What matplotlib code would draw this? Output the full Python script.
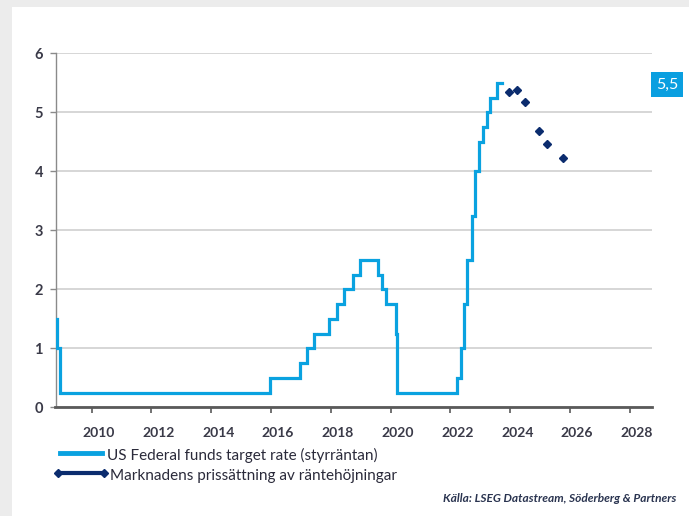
import matplotlib
matplotlib.use("Agg")
import matplotlib.pyplot as plt
import matplotlib.transforms as mtransforms
from matplotlib.patches import Rectangle
from matplotlib.lines import Line2D
import pandas as pd

# ---- data ----
rate_dates = ["2008-10-01", "2008-10-29", "2008-12-16", "2015-12-16", "2016-12-14",
              "2017-03-15", "2017-06-14", "2017-12-13", "2018-03-21", "2018-06-13",
              "2018-09-26", "2018-12-19", "2019-07-31", "2019-09-18", "2019-10-30",
              "2020-03-03", "2020-03-15", "2022-03-16", "2022-05-04", "2022-06-15",
              "2022-07-27", "2022-09-21", "2022-11-02", "2022-12-14", "2023-02-01",
              "2023-03-22", "2023-05-03", "2023-07-26", "2023-09-20"]
rate_values = [1.5, 1.0, 0.25, 0.5, 0.75, 1.0, 1.25, 1.5, 1.75, 2.0, 2.25, 2.5,
               2.25, 2.0, 1.75, 1.25, 0.25, 0.5, 1.0, 1.75, 2.5, 3.25, 4.0, 4.5,
               4.75, 5.0, 5.25, 5.5, 5.5]
market_years = [2023.97, 2024.23, 2024.49, 2024.97, 2025.24, 2025.75]
market_values = [5.35, 5.38, 5.18, 4.68, 4.47, 4.23]
x_ticks = [2010, 2012, 2014, 2016, 2018, 2020, 2022, 2024, 2026, 2028]
y_ticks = [0, 1, 2, 3, 4, 5, 6]
label_latest = "5,5"
legend_labels = ["US Federal funds target rate (styrräntan)",
                 "Marknadens prissättning av räntehöjningar"]
source_text = "Källa: LSEG Datastream, Söderberg & Partners"

def to_decimal_year(s):
    d = pd.Timestamp(s)
    start = pd.Timestamp(year=d.year, month=1, day=1)
    end = pd.Timestamp(year=d.year + 1, month=1, day=1)
    return d.year + (d - start) / (end - start)

rate_x = [to_decimal_year(s) for s in rate_dates]

# ---- figure ----
W, H = 689, 516
plt.rcParams['font.family'] = ['Lato', 'DejaVu Sans']
fig = plt.figure(figsize=(W / 100, H / 100), dpi=100)
fig.patch.set_facecolor("white")

# gray page borders
fig.patches.append(Rectangle((0, 0), 12 / W, 1, transform=fig.transFigure,
                             facecolor="#ececec", edgecolor="none", zorder=0))
fig.patches.append(Rectangle((0, 1 - 7 / H), 1, 7 / H, transform=fig.transFigure,
                             facecolor="#ececec", edgecolor="none", zorder=0))

def px(x, y):
    return x / W, 1 - y / H

left, right, top, bottom = 55.5, 652, 53.3, 407.3
ax = fig.add_axes([left / W, 1 - bottom / H, (right - left) / W, (bottom - top) / H])
ax.set_facecolor("none")

blue = "#0aa2e0"
navy = "#0b2c6e"

ax.plot(rate_x, rate_values, drawstyle="steps-post", color=blue, lw=2.3,
        solid_joinstyle="miter", zorder=3)
ax.plot(market_years, market_values, ls="none", marker="D", ms=4.5,
        color=navy, zorder=4)

ax.set_xlim(2008.79, 2028.74)
ax.set_ylim(0, 6)
ax.set_yticks(y_ticks)
ax.set_xticks(x_ticks)
ax.set_xticklabels([str(t) for t in x_ticks])
ax.grid(axis="y", color="#cfcfcf", lw=1.2)
ax.set_axisbelow(True)

for s in ["top", "right"]:
    ax.spines[s].set_visible(False)
ax.spines["left"].set_color("#8a8a8a")
ax.spines["left"].set_linewidth(1.0)
ax.spines["bottom"].set_color("#5a5a5a")
ax.spines["bottom"].set_linewidth(2.0)

ax.tick_params(axis="y", direction="out", length=4, width=1, color="#8a8a8a",
               pad=5, labelsize=10.5, labelcolor="#3a3a48")
ax.tick_params(axis="x", direction="out", length=4, width=1.2, color="#5a5a5a",
               pad=10, labelsize=10, labelcolor="#3a3a48")
offset = mtransforms.ScaledTranslation(7 / 100, 0, fig.dpi_scale_trans)
for lab in ax.get_xticklabels():
    lab.set_transform(lab.get_transform() + offset)
for lab in ax.get_xticklabels() + ax.get_yticklabels():
    lab.set_fontweight("bold")

# latest value box
bx0, by0, bx1, by1 = 651, 72, 683, 97
fig.patches.append(Rectangle(px(bx0, by1), (bx1 - bx0) / W, (by1 - by0) / H,
                             transform=fig.transFigure, facecolor="#0a9fe0",
                             edgecolor="none", zorder=5))
fig.text(*px((bx0 + bx1) / 2, (by0 + by1) / 2 + 0.5), label_latest, color="white",
         fontsize=11.5, ha="center", va="center", zorder=6)

# legend (manual)
l1 = Line2D([60 / W, 102 / W], [1 - 453 / H, 1 - 453 / H], transform=fig.transFigure,
            color=blue, lw=3.5)
l2 = Line2D([58 / W, 104 / W], [1 - 473 / H, 1 - 473 / H], transform=fig.transFigure,
            color=navy, lw=3, marker="D", ms=4, markevery=[0, 1])
fig.lines.extend([l1, l2])
fig.text(*px(107, 455), legend_labels[0], fontsize=11, color="#2a2a3a",
         ha="left", va="center")
fig.text(*px(110, 476), legend_labels[1], fontsize=11, color="#2a2a3a",
         ha="left", va="center")

fig.text(*px(676, 498), source_text, fontsize=8.6, style="italic", fontweight="bold",
         color="#2a3450", ha="right", va="center")

fig.savefig("out.png", dpi=100)
